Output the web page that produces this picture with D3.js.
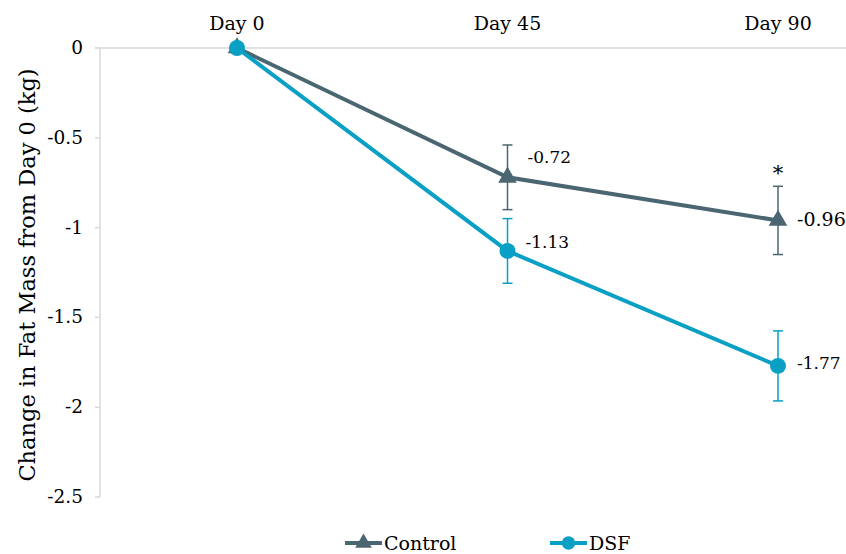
<!DOCTYPE html>
<html>
<head>
<meta charset="utf-8">
<script src="https://cdn.jsdelivr.net/npm/d3@7"></script>
<style>
  body { margin: 0; background: #fff; }
  svg text { font-family: "DejaVu Serif", "Liberation Serif", serif; fill: #000; }
</style>
</head>
<body>
<svg id="chart" width="846" height="554"></svg>
<script>
const days = ['Day 0', 'Day 45', 'Day 90'];
const controlVals = [0, -0.72, -0.96];
const controlErr = [0, 0.18, 0.19];
const dsfVals = [0, -1.13, -1.77];
const dsfErr = [0, 0.18, 0.195];
const yTicks = [0, -0.5, -1, -1.5, -2, -2.5];
const yTickLabels = ['0', '-0.5', '-1', '-1.5', '-2', '-2.5'];

const svg = d3.select('#chart');
const x = d3.scalePoint()
  .domain(days)
  .range([237, 778]);
const y = d3.scaleLinear()
  .domain([-2.5, 0])
  .range([497, 48]);

const axisCol = '#d9d9d9';
const ctrlCol = '#4a6670';
const dsfCol = '#0aa0c5';

// y axis
svg.append('line')
  .attr('x1', 100).attr('x2', 100)
  .attr('y1', y(0)).attr('y2', y(-2.5))
  .attr('stroke', axisCol).attr('stroke-width', 1.5);
svg.append('g')
  .selectAll('line')
  .data(yTicks)
  .join('line')
    .attr('x1', 95).attr('x2', 100)
    .attr('y1', d => y(d)).attr('y2', d => y(d))
    .attr('stroke', axisCol).attr('stroke-width', 1.5);
svg.append('g')
  .selectAll('text')
  .data(yTicks)
  .join('text')
    .attr('x', 83)
    .attr('y', d => y(d) + 6)
    .attr('text-anchor', 'end')
    .attr('font-size', 18.5)
    .text((d, i) => yTickLabels[i]);

// x axis at zero, labels on top
svg.append('line')
  .attr('x1', 95).attr('x2', 846)
  .attr('y1', y(0)).attr('y2', y(0))
  .attr('stroke', axisCol).attr('stroke-width', 1.5);
svg.append('g')
  .selectAll('text')
  .data(days)
  .join('text')
    .attr('x', d => x(d))
    .attr('y', 30)
    .attr('text-anchor', 'middle')
    .attr('font-size', 19)
    .text(d => d);

svg.append('text')
  .attr('transform', 'translate(35,' + 275 + ') rotate(-90)')
  .attr('text-anchor', 'middle')
  .attr('font-size', 22.5)
  .text('Change in Fat Mass from Day 0 (kg)');

function drawSeries(vals, errs, col, marker) {
  const g = svg.append('g');
  // error bars
  vals.forEach((v, i) => {
    if (!errs[i]) return;
    const cx = x(days[i]);
    g.append('line')
      .attr('x1', cx).attr('x2', cx)
      .attr('y1', y(v + errs[i])).attr('y2', y(v - errs[i]))
      .attr('stroke', col).attr('stroke-width', 1.5);
    [v + errs[i], v - errs[i]].forEach(e => {
      g.append('line')
        .attr('x1', cx - 5).attr('x2', cx + 5)
        .attr('y1', y(e)).attr('y2', y(e))
        .attr('stroke', col).attr('stroke-width', 1.5);
    });
  });
  const line = d3.line()
    .x((d, i) => x(days[i]))
    .y(d => y(d));
  g.append('path')
    .datum(vals)
    .attr('d', line)
    .attr('fill', 'none')
    .attr('stroke', col)
    .attr('stroke-width', 4);
  g.selectAll('path.mk')
    .data(vals)
    .join('path')
      .attr('class', 'mk')
      .attr('transform', (d, i) => 'translate(' + x(days[i]) + ',' + y(d) + ')')
      .attr('d', d3.symbol().type(marker).size(marker === d3.symbolCircle ? 200 : 150))
      .attr('fill', col);
}

drawSeries(controlVals, controlErr, ctrlCol, d3.symbolTriangle);
drawSeries(dsfVals, dsfErr, dsfCol, d3.symbolCircle);

// data labels
const ctrlLabelPos = [null, [20, -14, 17], [19, 6, 19]];
const dsfLabelPos = [null, [18, -3, 17], [19, 3, 17]];
controlVals.forEach((v, i) => {
  if (!ctrlLabelPos[i]) return;
  svg.append('text')
    .attr('x', x(days[i]) + ctrlLabelPos[i][0])
    .attr('y', y(v) + ctrlLabelPos[i][1])
    .attr('font-size', ctrlLabelPos[i][2])
    .text(v.toFixed(2));
});
dsfVals.forEach((v, i) => {
  if (!dsfLabelPos[i]) return;
  svg.append('text')
    .attr('x', x(days[i]) + dsfLabelPos[i][0])
    .attr('y', y(v) + dsfLabelPos[i][1])
    .attr('font-size', dsfLabelPos[i][2])
    .text(v.toFixed(2));
});
// significance star
svg.append('text')
  .attr('x', x('Day 90'))
  .attr('y', y(controlVals[2] + controlErr[2]) - 6)
  .attr('text-anchor', 'middle')
  .attr('font-size', 21)
  .text('*');

// legend
const legend = [
  { name: 'Control', col: ctrlCol, marker: d3.symbolTriangle, x: 345 },
  { name: 'DSF', col: dsfCol, marker: d3.symbolCircle, x: 550 }
];
legend.forEach(l => {
  const lg = svg.append('g');
  lg.append('line')
    .attr('x1', l.x).attr('x2', l.x + 37)
    .attr('y1', 543).attr('y2', 543)
    .attr('stroke', l.col).attr('stroke-width', 4);
  lg.append('path')
    .attr('transform', 'translate(' + (l.x + 18.5) + ',543)')
    .attr('d', d3.symbol().type(l.marker).size(l.marker === d3.symbolCircle ? 140 : 120))
    .attr('fill', l.col);
  lg.append('text')
    .attr('x', l.x + 39)
    .attr('y', 550)
    .attr('font-size', 19)
    .text(l.name);
});
</script>
</body>
</html>
